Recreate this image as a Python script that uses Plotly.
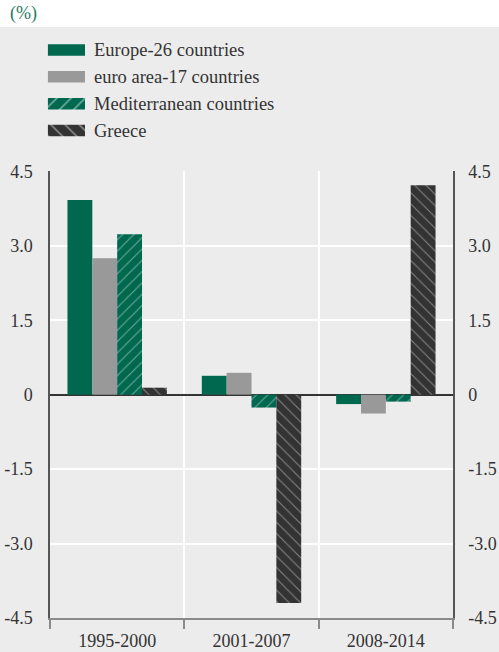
import plotly.graph_objects as go

# ---- data -------------------------------------------------------------
periods = ["1995-2000", "2001-2007", "2008-2014"]
series_names = ["Europe-26 countries", "euro area-17 countries",
                "Mediterranean countries", "Greece"]
europe26 = [3.92, 0.38, -0.19]
euro_area17 = [2.75, 0.44, -0.38]
mediterranean = [3.23, -0.26, -0.14]
greece = [0.14, -4.20, 4.22]
y_tickvals = [-4.5, -3.0, -1.5, 0, 1.5, 3.0, 4.5]
y_ticktext = ["-4.5", "-3.0", "-1.5", "0", "1.5", "3.0", "4.5"]

# ---- styling ----------------------------------------------------------
GREEN = "#00684f"
GREY = "#999999"
DARK = "#333333"
BG = "#ececec"
TEXT = "#333333"
FONT = "Liberation Serif, Times New Roman, serif"

W, H = 499, 652
ML, MR, MB, MT = 46, 46, 34, 0
PW, PH = W - ML - MR, H - MB - MT


def px_x(p):
    return (p - ML) / PW


def px_y(p):
    return (H - MB - p) / PH


def hatched(base, shape, line_color, size=8, solidity=0.14):
    return dict(color=base, pattern=dict(shape=shape, fgcolor=line_color,
                                         size=size, solidity=solidity))


bar_styles = [
    dict(color=GREEN),
    dict(color=GREY),
    hatched(GREEN, "/", "#cfe9df"),
    hatched(DARK, "\\", "#d0d0d0"),
]
swatch_styles = [
    dict(color=GREEN),
    dict(color=GREY),
    hatched(GREEN, "/", "#e2f2ec", size=10, solidity=0.16),
    hatched(DARK, "\\", "#dddddd", size=10, solidity=0.16),
]
values = [europe26, euro_area17, mediterranean, greece]
xpos = list(range(len(periods)))

fig = go.Figure()
for name, vals, st in zip(series_names, values, bar_styles):
    fig.add_trace(go.Bar(x=xpos, y=vals, name=name, marker=dict(line_width=0, **st),
                         showlegend=False))

# mirrored right-hand scale
fig.add_trace(go.Scatter(x=[0], y=[0], yaxis="y2", mode="markers",
                         marker=dict(opacity=0), showlegend=False, hoverinfo="skip"))

# legend swatches as horizontal bars on their own small axes
for i, (name, st) in enumerate(zip(series_names, swatch_styles)):
    fig.add_trace(go.Bar(x=[1], y=[i], orientation="h", width=0.43,
                         marker=dict(line_width=0, **st), xaxis="x3", yaxis="y3",
                         showlegend=False, hoverinfo="skip"))

plot_top = 171.3
row_centers = [50, 76.7, 103.8, 130.5]
row_gap = 26.83

fig.update_layout(
    width=W, height=H,
    margin=dict(l=ML, r=MR, t=MT, b=MB, autoexpand=False),
    paper_bgcolor=BG, plot_bgcolor=BG,
    font=dict(family=FONT, size=18, color=TEXT),
    barmode="group", bargap=0.26, bargroupgap=0,
    xaxis=dict(
        domain=[px_x(50), 1], range=[-0.5, 2.5],
        tickvals=xpos, ticktext=periods, ticks="", showgrid=False,
        showline=True, linecolor="#8a8a8a", linewidth=2,
        ticklabelstandoff=5,
        minor=dict(tickvals=[-0.5, 0.5, 1.5, 2.5], ticks="outside", ticklen=9,
                   tickcolor="#8a8a8a", tickwidth=2,
                   showgrid=True, gridcolor="white", gridwidth=2),
        zeroline=False,
    ),
    yaxis=dict(
        domain=[0, px_y(plot_top)], range=[-4.5, 4.5],
        tickvals=y_tickvals, ticktext=y_ticktext, ticks="",
        showgrid=True, gridcolor="white", gridwidth=1.5,
        showline=True, linecolor="#555555", linewidth=1.5,
        zeroline=True, zerolinecolor=DARK, zerolinewidth=1.5,
        ticklabelstandoff=12,
    ),
    yaxis2=dict(
        overlaying="y", side="right", anchor="x", range=[-4.5, 4.5],
        tickvals=y_tickvals, ticktext=y_ticktext, ticks="",
        showgrid=False, zeroline=False,
        showline=True, linecolor="#555555", linewidth=1.5,
        ticklabelstandoff=10,
    ),
    xaxis3=dict(domain=[px_x(47.7), px_x(85)], range=[0, 1], visible=False,
                fixedrange=True),
    yaxis3=dict(domain=[px_y(row_centers[-1] + row_gap / 2),
                        px_y(row_centers[0] - row_gap / 2)],
                range=[3.5, -0.5], visible=False, anchor="x3", fixedrange=True),
    showlegend=False,
)

# white title band across the top
fig.add_shape(type="rect", xref="paper", yref="paper",
              x0=-0.2, x1=1.2, y0=px_y(27), y1=1.05,
              fillcolor="white", line_width=0, layer="below")

fig.add_annotation(text="(%)", xref="paper", yref="paper",
                   x=px_x(8), y=px_y(14), xanchor="left", yanchor="middle",
                   showarrow=False, font=dict(size=18, color="#2a7a64", family=FONT))

for name, yc in zip(series_names, row_centers):
    fig.add_annotation(text=name, xref="paper", yref="paper",
                       x=px_x(92), y=px_y(yc), xanchor="left", yanchor="middle",
                       showarrow=False, font=dict(size=18.5, color=TEXT, family=FONT))

fig.write_html("out.html")
